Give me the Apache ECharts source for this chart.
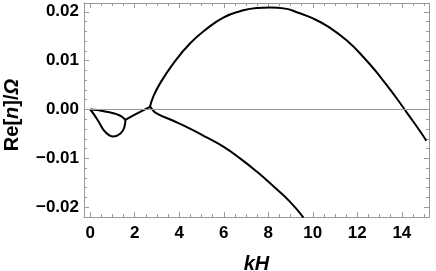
<!DOCTYPE html>
<html>
<head>
<meta charset="utf-8">
<script src="https://cdn.jsdelivr.net/npm/echarts@6/dist/echarts.min.js"></script>
<style>
  html, body { margin: 0; padding: 0; background: #fff; }
  #chart { width: 436px; height: 271px; }
</style>
</head>
<body>
<div id="chart"></div>
<script>
// small loop near the origin, upper and lower branch
var loopUpX = [0, 0.3, 0.61, 0.9, 1.21, 1.4, 1.58]
var loopUpY = [0, -0.0001, -0.00035, -0.0006, -0.001, -0.0014, -0.0021]
var loopLowX = [0, 0.15, 0.38, 0.68, 1.03, 1.36, 1.54, 1.58]
var loopLowY = [0, -0.0009, -0.0025, -0.0046, -0.0055, -0.0049, -0.0035, -0.0021]
// link from the loop up to the branch point
var linkX = [1.58, 2.11, 2.71]
var linkY = [-0.0021, -0.0008, 0.0006]
// big hump
var humpX = [2.68, 2.83, 3.13, 3.73, 4.48, 5.23, 5.98, 6.73, 7.48, 8.06, 8.83, 9.28, 10.03, 10.78, 11.53, 12.28, 13.03, 13.78, 14.28, 14.78, 15.1]
var humpY = [0.0005, 0.0026, 0.0053, 0.0094, 0.0135, 0.0165, 0.0188, 0.0201, 0.0208, 0.0209, 0.0206, 0.0199, 0.0186, 0.0167, 0.0141, 0.0107, 0.0067, 0.0022, -0.0010, -0.0042, -0.0064]
// lower branch
var lowX = [2.71, 2.75, 2.98, 3.73, 4.48, 5.23, 5.98, 6.73, 7.48, 8.23, 8.98, 9.58]
var lowY = [0.0006, 0.0002, -0.0008, -0.0023, -0.0039, -0.0057, -0.0076, -0.0100, -0.0127, -0.0157, -0.0189, -0.0221]

var frameColor = '#999'
var labelFont = 'Liberation Sans'

function zip(xs, ys) {
  var out = []
  for (var i = 0; i < xs.length; i++) out.push([xs[i], ys[i]])
  return out
}

function curve(xs, ys) {
  return {
    type: 'line',
    data: zip(xs, ys),
    smooth: 0.5,
    showSymbol: false,
    silent: true,
    lineStyle: { color: '#000', width: 2 }
  }
}

var frameAxis = {
  axisLine: { show: true, onZero: false, lineStyle: { color: frameColor, width: 1 } },
  axisTick: { show: true, inside: true, length: 5, lineStyle: { color: frameColor } },
  minorTick: { show: true, length: 3, lineStyle: { color: frameColor } },
  splitLine: { show: false }
}

var chart = echarts.init(document.getElementById('chart'))
var option = {
  animation: false,
  grid: { left: 84, right: 7, top: 3, bottom: 54, containLabel: false, outerBoundsMode: 'none' },
  xAxis: [
    Object.assign({}, frameAxis, {
      type: 'value', min: -0.28, max: 15.22, minInterval: 2, maxInterval: 2,
      minorTick: Object.assign({}, frameAxis.minorTick, { splitNumber: 4 }),
      axisLabel: { margin: 8, color: '#000', fontFamily: labelFont, fontWeight: 'bold', fontSize: 17,
        formatter: function (v) { return Math.abs(v - Math.round(v)) < 1e-9 && v >= 0 ? String(v) : '' } },
      name: 'kH', nameLocation: 'middle', nameGap: 37,
      nameTextStyle: { color: '#000', fontFamily: labelFont, fontWeight: 'bold', fontStyle: 'italic', fontSize: 20 }
    }),
    Object.assign({}, frameAxis, {
      type: 'value', position: 'top', min: -0.28, max: 15.22, minInterval: 2, maxInterval: 2,
      minorTick: Object.assign({}, frameAxis.minorTick, { splitNumber: 4 }),
      axisLabel: { show: false }
    })
  ],
  yAxis: [
    Object.assign({}, frameAxis, {
      type: 'value', min: -0.022, max: 0.0218, minInterval: 0.01, maxInterval: 0.01,
      minorTick: Object.assign({}, frameAxis.minorTick, { splitNumber: 5 }),
      axisLabel: { margin: 5, color: '#000', fontFamily: labelFont, fontWeight: 'bold', fontSize: 17,
        formatter: function (v) { return v < 0 ? '\u2212' + Math.abs(v).toFixed(2) : v.toFixed(2) } },
      name: '{b|Re[}{i|n}{b|]/}{i|\u03A9}', nameLocation: 'middle', nameGap: 62,
      nameTextStyle: {
        color: '#000', padding: [0, 10, 0, 0],
        rich: {
          b: { fontFamily: labelFont, fontWeight: 'bold', fontSize: 20, color: '#000' },
          i: { fontFamily: labelFont, fontWeight: 'bold', fontStyle: 'italic', fontSize: 20, color: '#000' }
        }
      }
    }),
    Object.assign({}, frameAxis, {
      type: 'value', position: 'right', min: -0.022, max: 0.0218, minInterval: 0.01, maxInterval: 0.01,
      minorTick: Object.assign({}, frameAxis.minorTick, { splitNumber: 5 }),
      axisLabel: { show: false }
    })
  ],
  series: [
    Object.assign(curve(loopUpX, loopUpY), {
      markLine: {
        silent: true, symbol: 'none', label: { show: false },
        lineStyle: { color: '#999', width: 1, type: 'solid' },
        data: [{ yAxis: 0 }]
      }
    }),
    curve(loopLowX, loopLowY),
    curve(linkX, linkY),
    curve(humpX, humpY),
    curve(lowX, lowY)
  ]
}
chart.setOption(option)
</script>
</body>
</html>
